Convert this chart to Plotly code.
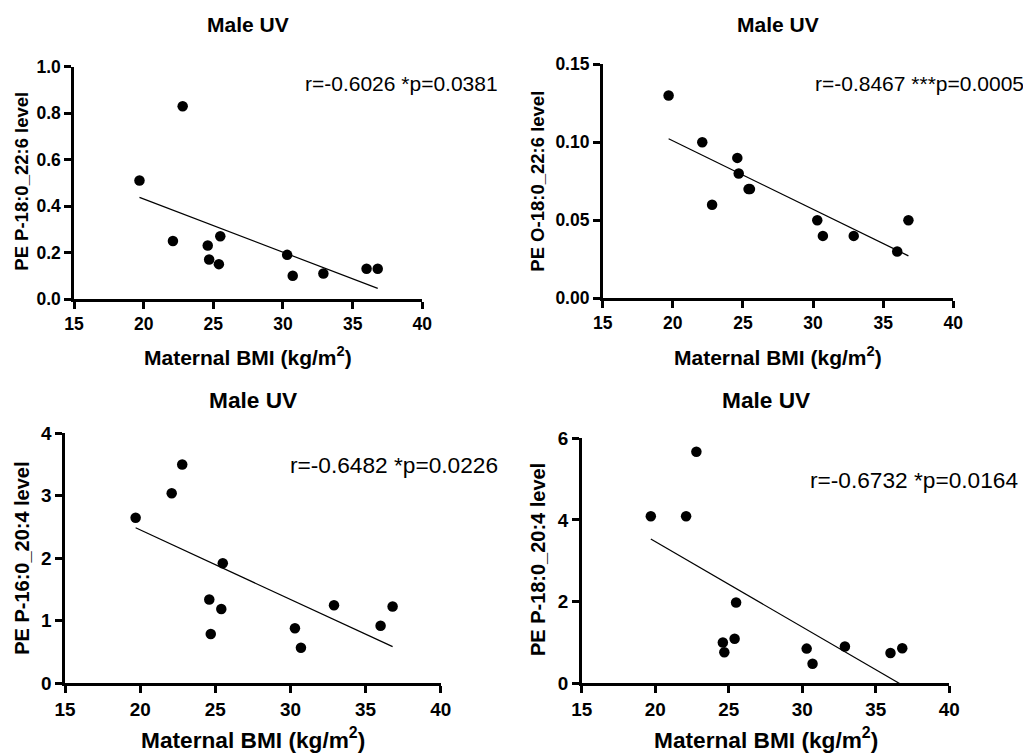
import numpy as np
import plotly.graph_objects as go

# ---- data ----
bmi = [19.7, 22.1, 22.8, 24.6, 24.7, 25.4, 25.5, 30.3, 30.7, 32.9, 36.0, 36.8]
pe_p18_226 = [0.51, 0.25, 0.83, 0.23, 0.17, 0.15, 0.27, 0.19, 0.10, 0.11, 0.13, 0.13]
pe_o18_226 = [0.13, 0.10, 0.06, 0.09, 0.08, 0.07, 0.07, 0.05, 0.04, 0.04, 0.03, 0.05]
pe_p16_204 = [2.65, 3.04, 3.50, 1.34, 0.79, 1.19, 1.92, 0.88, 0.57, 1.25, 0.92, 1.23]
pe_p18_204 = [4.09, 4.09, 5.67, 1.00, 0.76, 1.09, 1.98, 0.85, 0.48, 0.90, 0.74, 0.86]

panel_titles = ["Male UV", "Male UV", "Male UV", "Male UV"]
y_titles = ["PE P-18:0_22:6 level", "PE O-18:0_22:6 level",
            "PE P-16:0_20:4 level", "PE P-18:0_20:4 level"]
stats_text = ["r=-0.6026 *p=0.0381", "r=-0.8467 ***p=0.0005",
              "r=-0.6482 *p=0.0226", "r=-0.6732 *p=0.0164"]
x_title = "Maternal BMI (kg/m<sup>2</sup>)"
x_ticks = [15, 20, 25, 30, 35, 40]
x_ticklabels = ["15", "20", "25", "30", "35", "40"]
y_ticks = [[0, 0.2, 0.4, 0.6, 0.8, 1.0], [0, 0.05, 0.10, 0.15], [0, 1, 2, 3, 4], [0, 2, 4, 6]]
y_ticklabels = [["0.0", "0.2", "0.4", "0.6", "0.8", "1.0"],
                ["0.00", "0.05", "0.10", "0.15"],
                ["0", "1", "2", "3", "4"],
                ["0", "2", "4", "6"]]
y_ranges = [[0, 1.0], [0, 0.15], [0, 4], [0, 6]]

series = [pe_p18_226, pe_o18_226, pe_p16_204, pe_p18_204]

# ---- layout geometry (page pixels; page body has an 8px margin) ----
OFF = 8
W, H = 1031 - 2 * OFF, 755 - OFF


def px(p):
    return (p - OFF) / W


def py(p):
    return 1 - (p - OFF) / H


# [x0, x1, ytop, ybottom]
boxes = [
    [74, 422.3, 66.7, 299],
    [602.7, 953.3, 64.3, 298.3],
    [65, 440.7, 433.3, 683.3],
    [581.7, 949.3, 438.3, 683.3],
]
title_pos = [(248, 25), (778, 25), (253, 400), (766, 400)]
ytitle_pos = [(20.7, 181), (536.7, 181), (21.7, 558), (538, 560)]
xtitle_pos = [(248, 356), (778, 356), (253, 738), (766, 738)]
stats_pos = [(303, 83), (813, 83), (288, 465), (808, 480)]
scale = [1.0, 1.0, 1.08, 1.08]

FONT = "Liberation Sans, Arial, sans-serif"

fig = go.Figure()
layout = dict(width=W, height=H, margin=dict(l=0, r=0, t=0, b=0, pad=0),
              template="none",
              paper_bgcolor="white", plot_bgcolor="white", showlegend=False)
annotations = []

for i in range(4):
    n = "" if i == 0 else str(i + 1)
    xa, ya = "x" + n, "y" + n
    x0, x1, yt, yb = boxes[i]
    s = scale[i]
    ys = series[i]
    # least-squares regression line computed from the data
    slope, icpt = np.polyfit(bmi, ys, 1)
    xl = [min(bmi), max(bmi)]
    yl = [slope * v + icpt for v in xl]
    fig.add_trace(go.Scatter(x=xl, y=yl, mode="lines",
                             line=dict(color="black", width=1.2),
                             xaxis=xa, yaxis=ya, hoverinfo="skip"))
    fig.add_trace(go.Scatter(x=bmi, y=ys, mode="markers",
                             marker=dict(color="black", size=10.5),
                             xaxis=xa, yaxis=ya, cliponaxis=False))
    layout["xaxis" + n] = dict(
        domain=[px(x0), px(x1)], anchor=ya, range=[15, 40], automargin=False,
        tickmode="array", tickvals=x_ticks,
        ticktext=["<b>%s</b>" % t for t in x_ticklabels],
        showline=True, linecolor="black", linewidth=2.5,
        ticks="outside", ticklen=7, tickwidth=2.5, tickcolor="black",
        showgrid=False, zeroline=False,
        tickfont=dict(family=FONT, size=17.5 * s, color="black"))
    layout["yaxis" + n] = dict(
        domain=[py(yb), py(yt)], anchor=xa, range=y_ranges[i], automargin=False,
        tickmode="array", tickvals=y_ticks[i],
        ticktext=["<b>%s</b>" % t for t in y_ticklabels[i]],
        showline=True, linecolor="black", linewidth=2.5,
        ticks="outside", ticklen=7, tickwidth=2.5, tickcolor="black",
        showgrid=False, zeroline=False,
        tickfont=dict(family=FONT, size=17.5 * s, color="black"))
    annotations.append(dict(text="<b>%s</b>" % panel_titles[i], xref="paper", yref="paper",
                            x=px(title_pos[i][0]), y=py(title_pos[i][1]),
                            xanchor="center", yanchor="middle", showarrow=False,
                            font=dict(family=FONT, size=21 * s, color="black")))
    annotations.append(dict(text="<b>%s</b>" % y_titles[i], xref="paper", yref="paper",
                            x=px(ytitle_pos[i][0]), y=py(ytitle_pos[i][1]),
                            xanchor="center", yanchor="middle", showarrow=False,
                            textangle=-90,
                            font=dict(family=FONT, size=18.5 * s, color="black")))
    annotations.append(dict(text="<b>%s</b>" % x_title, xref="paper", yref="paper",
                            x=px(xtitle_pos[i][0]), y=py(xtitle_pos[i][1]),
                            xanchor="center", yanchor="middle", showarrow=False,
                            font=dict(family=FONT, size=21 * s, color="black")))
    annotations.append(dict(text=stats_text[i], xref="paper", yref="paper",
                            x=px(stats_pos[i][0]), y=py(stats_pos[i][1]),
                            xanchor="left", yanchor="middle", showarrow=False,
                            font=dict(family=FONT, size=21 * s, color="black")))

layout["annotations"] = annotations
fig.update_layout(**layout)
fig.write_html("out.html")
